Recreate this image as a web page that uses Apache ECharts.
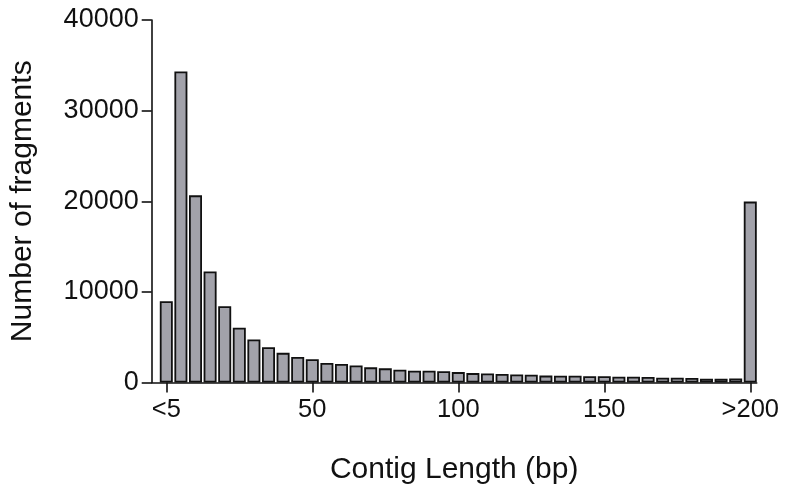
<!DOCTYPE html>
<html>
<head>
<meta charset="utf-8">
<script src="https://cdn.jsdelivr.net/npm/echarts@6/dist/echarts.min.js"></script>
<style>
  html, body { margin: 0; padding: 0; background: #fff; }
  #chart-container { width: 785px; height: 493px; }
</style>
</head>
<body>
<div id="chart-container"></div>
<script>
// bin start (bp), 0 stands for "<5" and 200 for ">200"
var binStart = [0, 5, 10, 15, 20, 25, 30, 35, 40, 45,
    50, 55, 60, 65, 70, 75, 80, 85, 90, 95,
    100, 105, 110, 115, 120, 125, 130, 135, 140, 145,
    150, 155, 160, 165, 170, 175, 180, 185, 190, 195,
    200];
// number of fragments per bin
var fragments = [8970, 34330, 20650, 12250, 8420, 6040, 4750, 3900, 3270, 2820,
    2570, 2150, 2050, 1870, 1670, 1560, 1410, 1310, 1290, 1250,
    1150, 1040, 1000, 930, 890, 850, 760, 750, 740, 690,
    700, 640, 630, 620, 530, 520, 510, 420, 410, 440,
    19960];
var tickValues = [0, 50, 100, 150, 200];
var tickText = {0: '<5', 50: '50', 100: '100', 150: '150', 200: '>200'};

var dom = document.getElementById('chart-container');
var myChart = echarts.init(dom, null, {
    renderer: 'canvas',
    useDirtyRect: false
});

var font = 'Liberation Sans, Arial, Helvetica, sans-serif';
var ink = '#111111';

var seriesData = binStart.map(function (x, i) {
    return [x, fragments[i]];
});

var option = {
    animation: false,
    backgroundColor: '#ffffff',
    grid: {
        left: 151.7,
        right: 28.3,
        top: 20,
        bottom: 110.5,
        outerBoundsMode: 'none'
    },
    xAxis: {
        type: 'value',
        min: -5,
        max: 202.2,
        name: 'Contig Length (bp)',
        nameLocation: 'middle',
        nameGap: 72,
        nameTextStyle: { color: ink, fontSize: 30, fontFamily: font },
        splitLine: { show: false },
        axisLine: { show: true, onZero: false, lineStyle: { color: ink, width: 1.6 } },
        axisTick: {
            show: true,
            customValues: tickValues,
            length: 10,
            lineStyle: { color: ink, width: 1.6 }
        },
        axisLabel: {
            customValues: tickValues,
            margin: 14,
            color: ink,
            fontSize: 25.5,
            fontFamily: font,
            formatter: function (v) { return tickText[v]; }
        }
    },
    yAxis: {
        type: 'value',
        min: 0,
        max: 40000,
        interval: 10000,
        name: 'Number of fragments',
        nameLocation: 'middle',
        nameGap: 114,
        nameTextStyle: { color: ink, fontSize: 30, fontFamily: font },
        splitLine: { show: false },
        axisLine: { show: true, onZero: false, lineStyle: { color: ink, width: 1.6 } },
        axisTick: { show: true, length: 10, lineStyle: { color: ink, width: 1.6 } },
        axisLabel: {
            margin: 13,
            color: ink,
            fontSize: 27,
            fontFamily: font,
            formatter: function (v) { return String(v); }
        }
    },
    series: [
        {
            type: 'bar',
            data: seriesData,
            barWidth: 13,
            barMaxWidth: 20,
            itemStyle: {
                color: '#a2a2aa',
                borderColor: ink,
                borderWidth: 1.8
            }
        }
    ]
};

myChart.setOption(option);
window.addEventListener('resize', myChart.resize);
</script>
</body>
</html>
